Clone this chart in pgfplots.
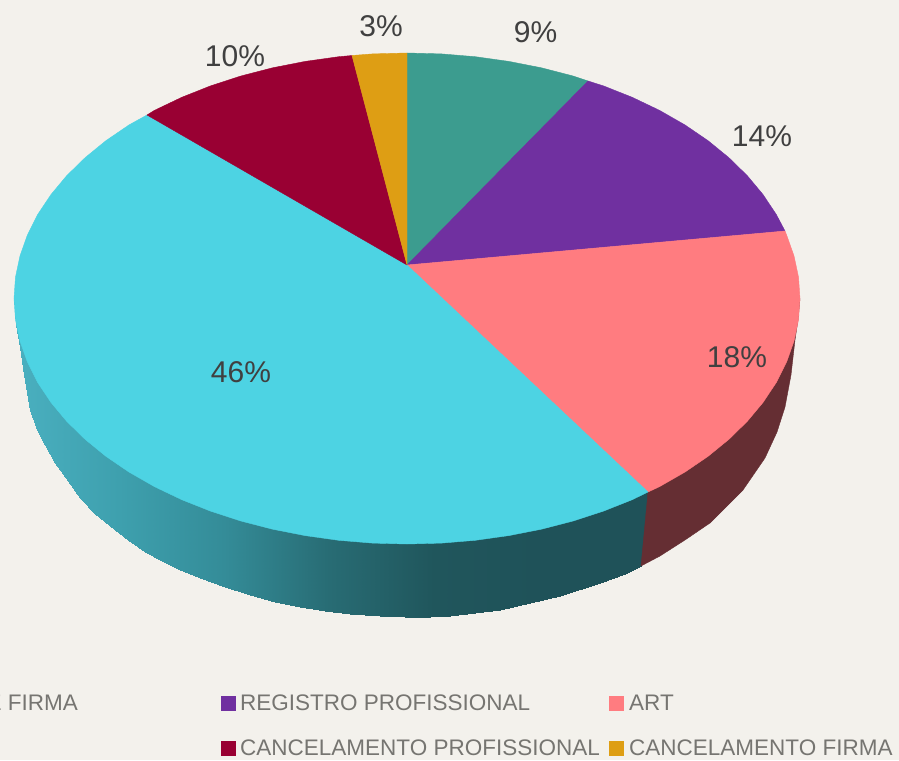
\documentclass[border=0pt]{standalone}
\usepackage{fontspec}
\setmainfont{Liberation Sans}
\usepackage{pgfplots}
\pgfplotsset{compat=1.18}

\definecolor{bgc}{RGB}{243,241,236}
\definecolor{cteal}{RGB}{60,156,143}
\definecolor{cpurple}{RGB}{112,48,160}
\definecolor{csalmon}{RGB}{255,124,128}
\definecolor{ccyan}{RGB}{77,211,227}
\definecolor{cred}{RGB}{153,0,51}
\definecolor{cgold}{RGB}{222,158,20}
\definecolor{cwall}{RGB}{101,46,51}
\definecolor{clabel}{RGB}{64,64,64}
\definecolor{clegend}{RGB}{118,117,113}

\tikzset{
    slice/.style={draw=#1, fill=#1, line width=0.4pt, mark=none},
    val/.style={font=\fontsize{30}{36}\selectfont, text=clabel, inner sep=0pt},
    leg/.style={font=\fontsize{22.5}{27}\selectfont, text=clegend, inner sep=0pt},
    key/.style={only marks, mark=square*, mark size=7pt, mark options={draw=#1, fill=#1}},
}

\begin{document}
\begin{tikzpicture}
\path[use as bounding box, clip] (0,0) rectangle (899pt,760pt);
\fill[bgc] (0,0) rectangle (899pt,760pt);
\begin{axis}[
    at={(0,0)}, anchor=south west,
    width=899pt, height=760pt, scale only axis,
    hide axis, clip=false,
    xmin=0, xmax=899, ymin=0, ymax=760,
    y dir=reverse,
    colormap={wall}{rgb255=(74,176,192) rgb255=(62,160,174) rgb255=(52,140,152) rgb255=(40,108,116) rgb255=(32,86,92) rgb255=(31,82,89) rgb255=(31,82,89)},
    point meta min=14, point meta max=644,
]
% side wall, cyan slice
\addplot[surf, shader=interp, mesh/rows=2, mesh/ordering=y varies, point meta=explicit]
    table[meta=c] {
x y c
14 298 14
14 298 14
16 325 16
16 315 16
20 347 20
20 335 20
24 375 24
24 350 24
30 410 30
30 360 30
37 430 37
37 372 37
45 445 45
45 385 45
55 463 55
55 398 55
68 481 68
68 410 68
80 498 80
80 425 80
95 514 95
95 438 95
110 526 110
110 450 110
128 540 128
128 460 128
145 552 145
145 470 145
160 560 160
160 480 160
180 570 180
180 488 180
200 578 200
200 497 200
225 587 225
225 505 225
250 595 250
250 513 250
275 602 275
275 520 275
300 607 300
300 525 300
325 611 325
325 530 325
350 614 350
350 535 350
380 616 380
380 537 380
405 617 405
405 537 405
430 616.5 430
430 537 430
450 615.5 450
450 535 450
475 613 475
475 530 475
500 609.5 500
500 525 500
530 603 530
530 518 530
560 596 560
560 510 560
600 583 600
600 498 600
625 574 625
625 488 625
641 566 641
648 492 641
};
% side wall, salmon slice
\addplot[slice=cwall] coordinates {
    (648,492)(641,566)(660,556)(685,540)(710,523)(743,490)(765,458)(777,432)(785,407)
    (791,375)(795,340)(798,320)(800,298.5)(780,300)(648,492)};

% top face
\addplot[slice=cteal] coordinates {
    (407,265)(407,53)(441.3,53.9)(475.2,56.7)(508.7,61.4)(541.4,67.8)(573.1,76)(588,81)(407,265)};
\addplot[slice=cpurple] coordinates {
    (407,265)(588,81)(603.5,85.9)(632.4,97.4)(659.6,110.4)(684.9,124.9)(708.1,140.7)(728.9,157.7)
    (747.3,175.7)(763.2,194.8)(776.3,214.5)(785,231)(407,265)};
\addplot[slice=csalmon] coordinates {
    (407,265)(785,231)(786.6,235)(794,255.9)(798.5,277.1)(800,298.5)(798.5,319.9)(794,341.1)
    (786.6,362)(776.3,382.5)(763.2,402.2)(747.3,421.3)(728.9,439.3)(708.1,456.3)(684.9,472.1)
    (659.6,486.6)(648,492)(407,265)};
\addplot[slice=ccyan] coordinates {
    (407,265)(648,492)(632.4,499.6)(603.5,511.1)(573.1,521)(541.4,529.2)(508.7,535.6)(475.2,540.3)
    (441.3,543.1)(407,544)(372.7,543.1)(338.8,540.3)(305.3,535.6)(272.6,529.2)(240.9,521)
    (210.5,511.1)(181.6,499.6)(154.4,486.6)(129.1,472.1)(105.9,456.3)(85.1,439.3)(66.7,421.3)
    (50.8,402.2)(37.7,382.5)(27.4,362)(20,341.1)(15.5,319.9)(14,298.5)(15.5,277.1)(20,255.9)
    (27.4,235)(37.7,214.5)(50.8,194.8)(66.7,175.7)(85.1,157.7)(105.9,140.7)(129.1,124.9)(147,115)(407,265)};
\addplot[slice=cred] coordinates {
    (407,265)(147,115)(154.4,110.4)(181.6,97.4)(210.5,85.9)(240.9,76)(272.6,67.8)(305.3,61.4)
    (338.8,56.7)(352,55.5)(407,265)};
\addplot[slice=cgold] coordinates {
    (407,265)(352,55.5)(372.7,53.9)(407,53)(407,265)};

% value labels
\node[val] at (axis cs:535.5,32) {9\%};
\node[val] at (axis cs:762,136) {14\%};
\node[val] at (axis cs:737,357) {18\%};
\node[val] at (axis cs:241,372) {46\%};
\node[val] at (axis cs:235,56) {10\%};
\node[val] at (axis cs:381,26) {3\%};

% legend
\addplot[key=cpurple] coordinates {(228,703)};
\addplot[key=csalmon] coordinates {(616,703)};
\addplot[key=cred] coordinates {(228,748)};
\addplot[key=cgold] coordinates {(616,748)};
\node[leg, anchor=east] at (axis cs:78,703) {REGISTRO DE FIRMA};
\node[leg, anchor=west] at (axis cs:240,703) {REGISTRO PROFISSIONAL};
\node[leg, anchor=west] at (axis cs:629,703) {ART};
\node[leg, anchor=west] at (axis cs:240,748) {CANCELAMENTO PROFISSIONAL};
\node[leg, anchor=west] at (axis cs:629,748) {CANCELAMENTO FIRMA};
\end{axis}
\end{tikzpicture}
\end{document}
